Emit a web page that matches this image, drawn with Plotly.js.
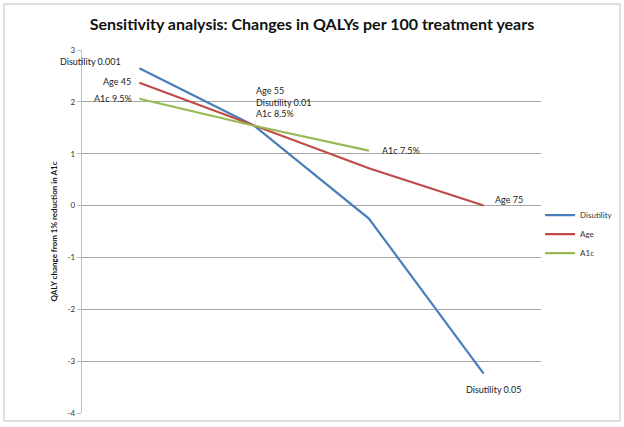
<!DOCTYPE html>
<html><head><meta charset="utf-8">
<script src="https://cdn.plot.ly/plotly-3.0.1.min.js"></script>
<style>body{margin:0;background:#fff}#c{width:624px;height:427px}</style>
</head><body><div id="c"></div>
<script>
const categories = ["Low", "Base", "Mid", "High"];
const disutility = [2.65, 1.54, -0.25, -3.24];
const age = [2.37, 1.54, 0.72, 0.0];
const a1c = [2.06, 1.54, 1.06];
const yTicks = [-4, -3, -2, -1, 0, 1, 2, 3];
const seriesNames = ["Disutility", "Age", "A1c"];
const colors = ["#4a7ebb", "#be4b48", "#98b954"];

const fontFam = "Lato, 'Open Sans', sans-serif";
const traces = [disutility, age, a1c].map((v, i) => ({
  type: "scatter", mode: "lines",
  x: categories.slice(0, v.length), y: v,
  name: seriesNames[i],
  line: {color: colors[i], width: 2.2}
}));

function ann(xi, y, text, opts) {
  return Object.assign({xref: "x", yref: "y", x: xi, y: y, text: text, showarrow: false,
    font: {family: fontFam, size: 9, color: "#222"}}, opts);
}
const annotations = [
  ann(0, disutility[0], "Disutility 0.001", {xanchor: "right", xshift: -16, yshift: 7}),
  ann(0, age[0], "Age 45", {xanchor: "right", xshift: -6, yshift: 1}),
  ann(0, a1c[0], "A1c 9.5%", {xanchor: "right", xshift: -5, yshift: 0}),
  ann(1, age[1], "Age 55<br>Disutility 0.01<br>A1c 8.5%", {xanchor: "left", align: "left", xshift: 0, yshift: 24}),
  ann(2, a1c[2], "A1c 7.5%", {xanchor: "left", xshift: 11, yshift: 0}),
  ann(3, age[3], "Age 75", {xanchor: "left", xshift: 9, yshift: 6}),
  ann(3, disutility[3], "Disutility 0.05", {xanchor: "center", xshift: 10, yshift: -16})
];

const layout = {
  width: 624, height: 427,
  margin: {l: 82, r: 83, t: 50, b: 14, autoexpand: false},
  paper_bgcolor: "#fff", plot_bgcolor: "#fff",
  font: {family: fontFam, size: 9, color: "#333"},
  title: {text: "<b>Sensitivity analysis: Changes in QALYs per 100 treatment years</b>",
    font: {family: fontFam, size: 16, color: "#111"}, x: 0.5, xanchor: "center", y: 0.943, yanchor: "middle"},
  xaxis: {type: "category", categoryorder: "array", categoryarray: categories,
    showticklabels: false, showgrid: false, zeroline: false, showline: false, ticks: "",
    range: [-0.5, 3.5], fixedrange: true},
  yaxis: {range: [-4, 3], tickvals: yTicks, ticktext: yTicks.map(String),
    showgrid: true, gridcolor: "#a6a6a6", gridwidth: 1.2, zeroline: false,
    showline: true, linecolor: "#bfbfbf", linewidth: 1.2, ticks: "outside", ticklen: 4, tickcolor: "#bfbfbf",
    tickfont: {family: fontFam, size: 8, color: "#333"},
    title: {text: "<b>QALY change from 1% reduction in A1c</b>", font: {family: fontFam, size: 8, color: "#111"}, standoff: 8}},
  legend: {x: 0.998, xanchor: "left", y: 0.585, yanchor: "top", font: {family: fontFam, size: 8, color: "#333"},
    bgcolor: "rgba(0,0,0,0)", tracegroupgap: 0, itemwidth: 30},
  annotations: annotations,
  shapes: [{type: "rect", xref: "paper", yref: "paper",
    x0: (4 - 82) / 459, x1: (620 - 82) / 459, y0: (413 - 421) / 363, y1: (413 - 4) / 363,
    line: {color: "#bdbdbd", width: 1}, layer: "below"}],
  showlegend: true
};
Plotly.newPlot("c", traces, layout, {displayModeBar: false, staticPlot: true});
</script></body></html>
